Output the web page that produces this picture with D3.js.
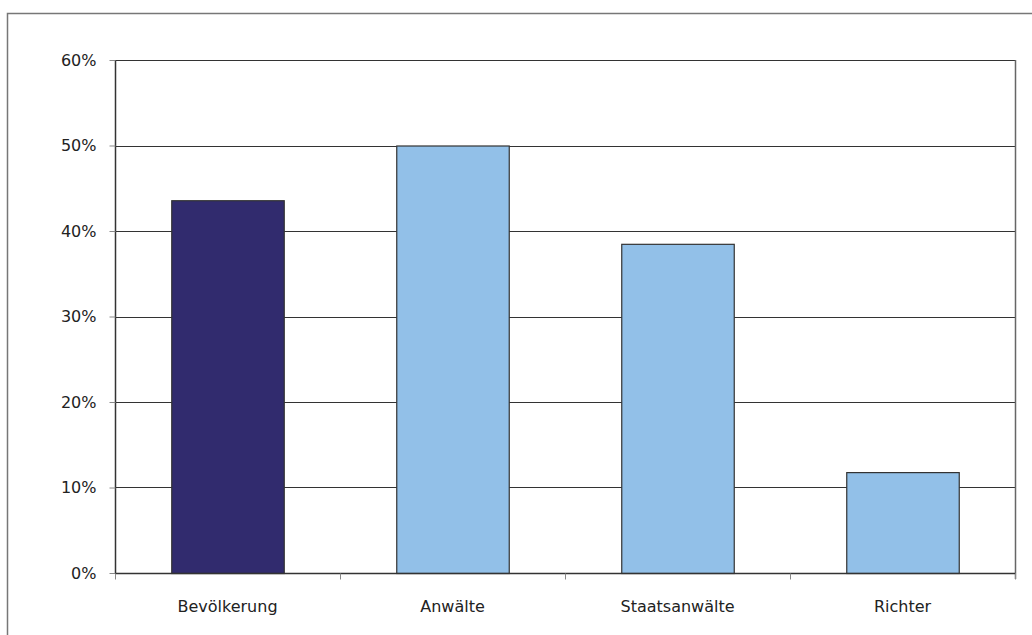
<!DOCTYPE html>
<html><head><meta charset="utf-8">
<script src="https://cdn.jsdelivr.net/npm/d3@7"></script>
<style>body{margin:0;background:#fff}svg{display:block}text{font-family:"DejaVu Sans",sans-serif;fill:#222}</style>
</head><body>
<svg id="c" width="1032" height="635"></svg>
<script>
const categories = ["Bevölkerung", "Anwälte", "Staatsanwälte", "Richter"];
const values = [0.436, 0.50, 0.385, 0.118];
const barColors = ["#312b6e", "#92c0e8", "#92c0e8", "#92c0e8"];
const yTicks = [0, 0.1, 0.2, 0.3, 0.4, 0.5, 0.6];

const svg = d3.select("#c");
const m = {left: 115, right: 1015, top: 60, bottom: 573};

// outer frame
svg.append("path").attr("d", "M7.5,635 V13.5 H1032").attr("fill", "none").attr("stroke", "#777").attr("stroke-width", 1.5);

const x = d3.scaleBand().domain(categories).range([m.left, m.right]).paddingInner(0.5).paddingOuter(0.25);
const y = d3.scaleLinear().domain([0, 0.6]).range([m.bottom, m.top]);

// gridlines
svg.append("g").selectAll("line").data(yTicks.filter(d => d > 0)).join("line")
  .attr("x1", m.left).attr("x2", m.right)
  .attr("y1", d => Math.round(y(d)) + 0.5).attr("y2", d => Math.round(y(d)) + 0.5)
  .attr("stroke", "#333").attr("stroke-width", 1);

// right border
svg.append("line").attr("x1", m.right + 0.5).attr("x2", m.right + 0.5).attr("y1", m.top).attr("y2", m.bottom + 6)
  .attr("stroke", "#666").attr("stroke-width", 1.5);

// bars
svg.append("g").selectAll("rect").data(values).join("rect")
  .attr("x", (d, i) => x(categories[i]) + 0.5)
  .attr("y", d => y(d) + 0.5)
  .attr("width", x.bandwidth())
  .attr("height", d => y(0) - y(d))
  .attr("fill", (d, i) => barColors[i])
  .attr("stroke", "#333").attr("stroke-width", 1.2);

// y axis
const yAxis = d3.axisLeft(y).tickValues(yTicks).tickFormat(d3.format(".0%")).tickSize(6).tickPadding(13);
const gy = svg.append("g").attr("transform", `translate(${m.left + 0.5},0)`).call(yAxis);
gy.select(".domain").attr("stroke", "#333").attr("stroke-width", 1.5).attr("d", `M0,${m.top}V${m.bottom}`);
gy.selectAll(".tick line").attr("stroke", "#888");
gy.selectAll("text").style("font-size", "16px").attr("fill", "#333");

// x axis
const xAxis = d3.axisBottom(x).tickSize(0).tickPadding(27);
const gx = svg.append("g").attr("transform", `translate(0,${m.bottom + 0.5})`).call(xAxis);
gx.select(".domain").attr("stroke", "#333").attr("stroke-width", 1.5).attr("d", `M${m.left},0H${m.right}`);
gx.selectAll("text").style("font-size", "16px").attr("fill", "#333");
// category separator ticks
const sep = categories.map((c, i) => x(c) + x.bandwidth() / 2 + x.step() / 2);
gx.selectAll(".sep").data([x(categories[0]) - x.step() / 2 + x.bandwidth() / 2].concat(sep)).join("line")
  .attr("class", "sep").attr("x1", d => Math.round(d) + 0.5).attr("x2", d => Math.round(d) + 0.5)
  .attr("y1", 0).attr("y2", 6).attr("stroke", "#888");
</script>
</body></html>
